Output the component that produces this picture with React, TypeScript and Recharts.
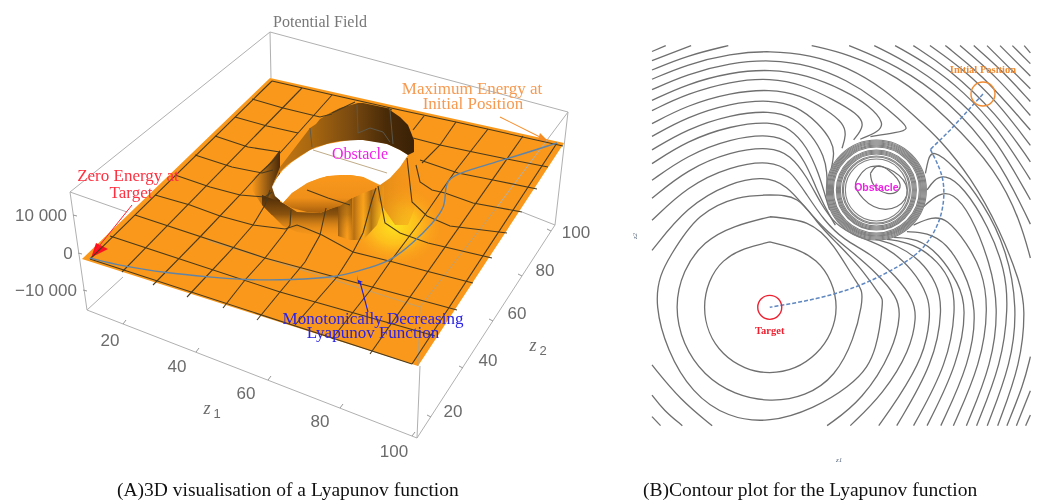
import { ComposedChart, Line, Area, XAxis, YAxis, ReferenceDot } from "recharts";

type Pt = [number, number];
type Band = [number, number, number];

// ---- panel A in the projected plane of the 3D view ----
const surfaceBand: Band[] = [[82, 259, 259], [270, 78, 319], [418, 111, 366], [564, 143, 143]];
const glowBand: Band[] = [[345, 225, 235], [360, 200, 255], [380, 188, 265], [400, 183, 268], [420, 190, 262], [435, 205, 250], [445, 225, 232]];
const backWallBand: Band[] = [[272, 187, 187], [280, 167, 172], [287, 158, 165], [300, 141, 156], [310, 128, 150], [316, 124, 147], [320, 119, 146], [330, 113, 143], [340, 108, 141], [358, 103, 140], [363, 103, 140], [387, 108, 144], [400, 117, 150], [408, 125, 155], [414, 140, 152]];
const holeBand: Band[] = [[272, 187, 187], [275, 180, 196], [283, 170, 203], [292, 162, 193], [310, 150, 182], [327, 144, 176], [350, 140, 175], [363, 140, 177], [380, 142, 185], [390, 145, 178], [400, 150, 167], [408, 155, 155]];
const bulgeBand: Band[] = [[283, 203, 203], [292, 193, 208], [307, 183, 212], [320, 178, 213], [330, 176, 209], [340, 175, 206], [350, 175, 199], [363, 177, 193], [377, 184, 188]];
const shadowBand: Band[] = [[262, 195, 205], [283, 203, 226], [297, 212, 232], [320, 213, 236], [340, 205, 238], [352, 198, 236]];
const flankBand: Band[] = [[252, 178, 190], [262, 172, 205], [272, 160, 215], [280, 150, 212]];
const streakBand: Band[] = [[338, 206, 236], [350, 199, 240], [363, 193, 240], [377, 187, 225], [384, 186, 205]];
const rightWallBand: Band[] = [[378, 186, 200], [395, 165, 225], [408, 155, 225], [416, 142, 205], [426, 165, 200]];

const gridAlong: Pt[][] = [
  [[90, 259], [412, 364]],
  [[110, 236], [280, 292], [435, 336]],
  [[135, 215], [265, 258], [457, 310]],
  [[155, 195], [190, 205], [220, 216], [253, 225], [285, 229], [297, 225], [305, 228], [322, 235], [353, 252], [393, 262], [430, 272], [473, 283]],
  [[175, 175], [210, 187], [240, 195], [265, 197], [272, 192]],
  [[378, 186], [385, 223], [400, 233], [428, 243], [492, 258]],
  [[195, 155], [232, 167], [262, 173], [273, 170]],
  [[407, 158], [412, 202], [427, 216], [450, 226], [507, 233]],
  [[215, 136], [248, 147], [280, 152]],
  [[416, 165], [420, 182], [432, 190], [445, 193], [473, 203], [522, 212]],
  [[235, 117], [267, 126], [298, 133]],
  [[420, 160], [458, 173], [493, 180], [537, 189]],
  [[252, 99], [283, 108], [320, 117], [332, 114]],
  [[413, 138], [440, 145], [473, 152], [507, 159], [548, 167]],
  [[272, 81], [333, 95], [400, 110], [456, 122], [563, 146]],
  [[307, 190], [328, 198], [350, 205]],
];
const gridAcross: Pt[][] = [
  [[90, 259], [272, 81]],
  [[122, 272], [302, 88]],
  [[153, 285], [200, 237], [240, 195], [260, 173], [274, 160], [280, 153], [298, 133], [332, 95]],
  [[187, 297], [233, 248], [253, 225], [265, 205], [270, 190]],
  [[223, 308], [245, 280], [265, 258], [283, 235], [290, 225], [291, 210]],
  [[257, 320], [280, 292], [305, 262], [320, 235], [326, 208]],
  [[295, 325], [337, 277], [353, 252], [363, 233], [372, 200], [376, 188]],
  [[332, 339], [372, 288], [390, 262], [420, 222], [440, 193], [456, 170], [488, 129]],
  [[370, 354], [523, 136]],
  [[412, 364], [557, 143]],
  [[422, 163], [440, 145], [456, 122]],
  [[413, 130], [424, 116]],
  [[387, 108], [392, 110]],
  [[332, 113], [355, 102]],
];
const wallCurves: Pt[][] = [
  [[310, 128], [312, 147]],
  [[357, 105], [358, 133], [370, 128], [383, 132], [390, 142]],
  [[390, 110], [393, 144]],
];
const pathA: Pt[] = [[90, 258], [122, 266], [167, 273], [210, 277], [245, 280], [293, 280], [337, 277], [358, 271], [390, 262], [413, 243], [433, 223], [445, 207], [445, 193], [447, 180], [458, 173], [507, 159], [557, 143]];

const boxLines: Pt[][] = [
  [[270, 32], [568, 112]],
  [[270, 32], [70, 192]],
  [[270, 32], [271, 78]],
  [[70, 192], [87, 310]],
  [[568, 112], [555, 225]],
  [[87, 310], [417, 438]],
  [[417, 438], [555, 225]],
  [[87, 310], [123, 277]],
  [[555, 225], [522, 212]],
  [[70, 192], [127, 212]],
  [[568, 112], [497, 207]],
  [[420, 366], [417, 438]],
];
const boxFaint: Pt[][] = [
  [[207, 240], [420, 307]],
  [[497, 207], [420, 307], [418, 366]],
  [[313, 150], [387, 173]],
];
const boxTicks: Pt[][] = [
  [[123, 324], [126, 320]], [[196, 352], [199, 348]], [[268, 380], [271, 376]], [[340, 408], [343, 404]], [[412, 436], [415, 432]],
  [[431, 417], [427, 415]], [[463, 368], [459, 366]], [[493, 321], [489, 319]], [[522, 276], [518, 274]], [[551, 231], [547, 229]],
  [[73, 215], [77, 216]], [[78, 253], [82, 254]], [[83, 290], [87, 291]],
];

const redArrow: Pt[] = [[132, 205], [96, 250]];
const redHead: Band[] = [[91, 258, 258], [96, 243, 255], [108, 249, 249]];
const orangeArrow: Pt[] = [[500, 117], [542, 138]];
const orangeHead: Band[] = [[538, 140, 140], [540, 133, 141], [549, 142, 142]];
const blueArrow: Pt[] = [[368, 312], [360, 282]];
const blueHead: Band[] = [[357, 275, 275], [358, 280, 283], [363, 282, 282]];

// ---- panel B, values in z1 / z2 ----
const ringContours: Pt[][] = [
  [[10, 37.6], [29.5, 29.5], [38, 10], [29.5, -9.5], [10, -17.5], [-9.5, -9.5], [-17.5, 10], [-9.5, 29.5], [10, 37.6]],
  [[10.1, 48.2], [25.7, 45.4], [37, 35.6], [46.1, 21.5], [48.5, 10], [37, -17.9], [10.1, -29.1], [-17.2, -17.9], [-29.1, 10], [-17.2, 37], [10.1, 48.2]],
  [[10.1, 57.4], [21.5, 55.3], [30, 46.1], [38.4, 37], [48.2, 26.4], [56, 15.9], [57.4, 10], [54.6, -6.6], [42.6, -23.5], [10.1, -37.4], [-22.1, -24.9], [-37.3, 10], [-31.2, 32.8], [-19.3, 48.2], [-3.8, 56], [10.1, 57.4]],
];
const lowerLeftArcs: Pt[][] = [
  [[-39.7, -14.3], [-27.7, -29.1], [-14.3, -39.9]],
  [[-39.7, -27], [-34.7, -33.5], [-26.9, -39.9]],
  [[-39.7, -36.1], [-36.1, -39.9]],
];
const passingContours: Pt[][] = [
  [[-39.7, 34], [-24.9, 52.7], [-6.6, 62.7], [7.5, 65.3], [17.3, 61.6], [25.7, 51.1], [34.2, 41.9], [45.4, 32.8], [55.3, 24.3], [63.7, 14.5], [65.4, 7.5], [62.3, -8], [49.2, -29.1], [34.2, -39.9]],
  [[-39.7, 46.7], [-24.9, 61], [-6.6, 69.6], [10.3, 71.9], [18.7, 67.9], [25.7, 57.4], [32.8, 46.8], [41.2, 38.4], [52.5, 32.8], [63.7, 22.9], [70.7, 13.1], [72, 6], [69.3, -8], [58.1, -26.3], [44, -39.9]],
  [[-39.7, 56], [-24.9, 68.1], [-6.6, 75.7], [10.3, 77.8], [18.7, 74.3], [25.7, 65.1], [31.4, 53.9], [37.7, 44.7], [46.8, 39.8], [59.5, 35.6], [70.7, 25.7], [77.1, 14.5], [77.9, 6], [75, -10.8], [63.7, -29.1], [56, -39.9]],
  [[-39.7, 106.2], [-24.9, 112.5], [-6.6, 117], [10.1, 118.3], [27.1, 116.5], [42.6, 111.5], [58.1, 102.4], [72.2, 89.7], [82, 80.6], [94.7, 65.1], [107.3, 42.6], [115.8, 20.1], [117.9, 10], [116.1, -13.6], [106.2, -39.9]],
];
const enteringContours: Pt[][] = [
  [[-39.7, 63.6], [-24.9, 74.1], [-6.6, 81.2], [10.3, 83.1], [18.7, 79.9], [25, 71.4], [29.3, 60.9], [34.2, 50.4], [37.7, 44.7]],
  [[-39.7, 70.6], [-24.9, 80.2], [-6.6, 86.6], [10.3, 88.5], [18.7, 85.5], [25.7, 77.8], [30.7, 66.5], [33.5, 56.7], [35.3, 51.1]],
  [[-39.7, 76.4], [-24.9, 85.2], [-6.6, 91.3], [10.3, 93], [20.1, 90.2], [27.8, 82.7], [33.1, 73.6], [34.2, 66.5], [34.2, 60.9]],
  [[-39.7, 82.1], [-24.9, 90.3], [-6.6, 96.1], [10.3, 97.6], [21.5, 94.9], [30.7, 87.6], [36.3, 79.9], [37.3, 75], [36, 68.6]],
  [[-39.7, 87.5], [-24.9, 95.2], [-6.6, 100.6], [10.3, 102.1], [22.9, 99.6], [34.2, 93.2], [41.2, 87.6], [42.3, 82.7], [40.5, 77.1]],
  [[-39.7, 93], [-24.9, 100.1], [-6.6, 105.3], [10.3, 106.8], [24.3, 103.8], [37, 97.5], [46.8, 91.8], [50.4, 86.9], [45.4, 80.6]],
  [[-39.7, 97.3], [-24.9, 104.2], [-6.6, 109.1], [10.3, 110.5], [25.7, 108], [41.2, 101.7], [52.5, 94.7], [58.4, 87.6], [56, 84.1], [48.2, 80.9]],
  [[-39.7, 101.8], [-24.9, 108.4], [-6.6, 113.1], [10.3, 114.5], [27.1, 112.2], [42.6, 105.9], [55.3, 97.5], [65.1, 89], [69.1, 85.1], [63.7, 83.7], [52.5, 82]],
];
const leavingContours: Pt[][] = [
  [[54.6, 38.7], [63.7, 36.3], [73.6, 30], [80.6, 20.1], [83.1, 10], [79.3, -13.6], [63.6, -39.9]],
  [[59.5, 38.7], [70.7, 37], [81.3, 29.3], [86.9, 20.1], [88.6, 10], [85.2, -13.6], [70.7, -39.9]],
  [[62.3, 39.5], [72.2, 39.1], [81.3, 32.8], [89.7, 20.1], [93.2, 10], [89.6, -13.6], [76.4, -39.9]],
  [[67.9, 41.9], [76.4, 41.6], [84.8, 37], [91.8, 25.7], [97.7, 10], [94.5, -13.6], [82.2, -39.9]],
  [[70.7, 44.7], [78.5, 48.2], [84.8, 47.5], [93.2, 37], [99.6, 25.7], [102.4, 10], [99.2, -13.6], [87.5, -39.9]],
  [[75, 52.5], [81.3, 58.1], [87.3, 58.4], [94.7, 49.6], [103.1, 28.6], [106.6, 10], [103.9, -13.6], [93, -39.9]],
  [[76.4, 59.5], [79.2, 63.7], [83.7, 66.2], [91.8, 60.9], [102.4, 44], [109.4, 25.7], [110.7, 10], [107.9, -13.6], [97.3, -39.9]],
  [[75.7, 66.5], [76.8, 72.2], [78.5, 76.7], [87.6, 70], [100.3, 53.9], [110.1, 34.2], [114.6, 10], [112, -13.6], [101.8, -39.9]],
];
const outerContours: Pt[][] = [
  [[-39.7, 110.1], [-24.9, 116.2], [-7.5, 120.4]],
  [[27.7, 120.4], [42.6, 117], [63.7, 108], [84.8, 90.4], [105.9, 67.7], [115.8, 46.3], [120, 30.8]],
  [[120, -10.8], [117.2, -22.4], [110.1, -39.9]],
  [[-39.7, 114.1], [-23.2, 120.4]],
  [[43.5, 120.4], [63.7, 112.1], [84.8, 97.9], [105.9, 74.3], [120, 45.1]],
  [[120, -25.2], [114.1, -39.9]],
  [[-39.7, 117.9], [-33.9, 120.4]],
  [[54.1, 120.4], [70.7, 112.2], [91.8, 96.3], [105.9, 80.3], [120, 55.4]],
  [[120, -35.4], [118, -39.9]],
  [[62.9, 120.4], [77.8, 112], [91.8, 101], [105.9, 86.1], [120, 63.9]],
  [[70.6, 120.4], [84.8, 111.3], [105.9, 91.7], [120, 71.4]],
  [[77.6, 120.4], [91.8, 110.3], [105.9, 96.9], [120, 78.3]],
  [[84.1, 120.4], [98.9, 108.9], [120, 84.8]],
  [[90.3, 120.4], [105.9, 107.2], [120, 90.9]],
  [[96.1, 120.4], [108.7, 109.3], [120, 96.8]],
  [[101.7, 120.4], [120, 102.2]],
  [[107.2, 120.4], [120, 107.6]],
  [[112.4, 120.4], [120, 112.8]],
  [[117.4, 120.4], [120, 117.3]],
];
const innerLoops: Pt[][] = [
  [[52.5, 66.5], [56.7, 69.6], [63.7, 64.4], [64.4, 59.5], [59.5, 58.1], [53.9, 61.6], [52.5, 66.5]],
  [[46.8, 63.7], [52.5, 69.3], [62.3, 67.3], [68, 59.5], [63.7, 52.5], [53.9, 52.5], [46.8, 59.5], [46.8, 63.7]],
];
const obstacleRings = [50, 49, 48, 47, 46, 45, 44, 43, 40, 39, 38, 37, 36, 34, 33, 31];
const pathUpper: Pt[] = [[100, 100], [86.2, 84.8], [77.8, 76.6]];
const pathLower: Pt[] = [[77.8, 76.6], [81.3, 69.3], [83.4, 60.9], [82, 48.2], [75, 35.6], [63.7, 27], [48.2, 19.4], [30, 13.8], [10, 10]];
const tickValues = [-40, -30, -20, -10, 0, 10, 20, 30, 40, 50, 60, 70, 80, 90, 100, 110, 120];

const leftNotes = [
  { text: "Potential Field", x: 320, y: 21, color: "#777", size: 16, font: "Liberation Serif" },
  { text: "Zero Energy at", x: 128, y: 175, color: "#ff3040", size: 17, font: "Liberation Serif" },
  { text: "Target", x: 131, y: 192, color: "#ff3040", size: 17, font: "Liberation Serif" },
  { text: "Maximum Energy at", x: 472, y: 88, color: "#f79a50", size: 17, font: "Liberation Serif" },
  { text: "Initial Position", x: 473, y: 103, color: "#f79a50", size: 17, font: "Liberation Serif" },
  { text: "Obstacle", x: 360, y: 153, color: "#f022e8", size: 16, font: "Liberation Serif" },
  { text: "Monotonically Decreasing", x: 373, y: 318, color: "#2a22e8", size: 17, font: "Liberation Serif" },
  { text: "Lyapunov Function", x: 373, y: 332, color: "#2a22e8", size: 17, font: "Liberation Serif" },
  { text: "10 000", x: 41, y: 215, color: "#6b6b6b", size: 17, font: "Liberation Sans" },
  { text: "0", x: 68, y: 253, color: "#6b6b6b", size: 17, font: "Liberation Sans" },
  { text: "−10 000", x: 46, y: 290, color: "#6b6b6b", size: 17, font: "Liberation Sans" },
  { text: "20", x: 110, y: 340, color: "#6b6b6b", size: 17, font: "Liberation Sans" },
  { text: "40", x: 177, y: 366, color: "#6b6b6b", size: 17, font: "Liberation Sans" },
  { text: "60", x: 246, y: 393, color: "#6b6b6b", size: 17, font: "Liberation Sans" },
  { text: "80", x: 320, y: 421, color: "#6b6b6b", size: 17, font: "Liberation Sans" },
  { text: "100", x: 394, y: 451, color: "#6b6b6b", size: 17, font: "Liberation Sans" },
  { text: "20", x: 453, y: 411, color: "#6b6b6b", size: 17, font: "Liberation Sans" },
  { text: "40", x: 488, y: 360, color: "#6b6b6b", size: 17, font: "Liberation Sans" },
  { text: "60", x: 517, y: 313, color: "#6b6b6b", size: 17, font: "Liberation Sans" },
  { text: "80", x: 545, y: 270, color: "#6b6b6b", size: 17, font: "Liberation Sans" },
  { text: "100", x: 576, y: 232, color: "#6b6b6b", size: 17, font: "Liberation Sans" },
];

const toLine = (pts: Pt[]) => pts.map(([x, y]) => ({ x, y }));
const toBand = (rows: Band[]) => rows.map(([x, lo, hi]) => ({ x, band: [lo, hi] }));

const drawBand = (rows: Band[], fill: string, key: string) => (
  <Area key={key} data={toBand(rows)} dataKey="band" stroke="none" fill={fill} fillOpacity={1} type="linear" dot={false} activeDot={false} isAnimationActive={false} />
);
const drawLine = (pts: Pt[], color: string, width: number, key: string, type: any = "linear", dash?: string) => (
  <Line key={key} data={toLine(pts)} dataKey="y" stroke={color} strokeWidth={width} strokeDasharray={dash} type={type} dot={false} activeDot={false} isAnimationActive={false} />
);
const note = (n: any, i: number) => (
  <ReferenceDot key={`note${i}`} x={n.x} y={n.y} r={0} ifOverflow="visible" stroke="none" fill="none"
    label={{ value: n.text, position: "center", fill: n.color, fontSize: n.size, fontFamily: n.font, fontWeight: n.bold ? 700 : 400 }} />
);

const axisColor = "#555";
const tickFont = "Liberation Serif";
const XTick = ({ x, y, payload, side }: any) => {
  const major = payload.value % 50 === 0;
  const len = major ? 6 : 3;
  return (
    <g>
      <line x1={x} y1={y} x2={x} y2={side === "bottom" ? y - len : y + len} stroke={axisColor} strokeWidth={0.8} />
      {side === "bottom" && major && <text x={x} y={y + 10} textAnchor="middle" fontSize={7} fontFamily={tickFont} fill="#5a6a80">{payload.value}</text>}
    </g>
  );
};
const YTick = ({ x, y, payload, side }: any) => {
  const major = payload.value % 50 === 0;
  const len = major ? 6 : 3;
  return (
    <g>
      <line x1={x} y1={y} x2={side === "left" ? x + len : x - len} y2={y} stroke={axisColor} strokeWidth={0.8} />
      {side === "left" && major && <text x={x - 3} y={y + 2} textAnchor="end" fontSize={7} fontFamily={tickFont} fill="#5a6a80">{payload.value}</text>}
    </g>
  );
};

const captionStyle: any = { position: "absolute", top: 479, fontFamily: "Liberation Serif", fontSize: 19.5, color: "#111", whiteSpace: "nowrap" };

export default function App() {
  return (
    <div style={{ position: "absolute", left: 0, top: 0, width: 1045, height: 502, background: "#fff", overflow: "hidden", filter: "blur(0.45px)" }}>
      <div style={{ position: "absolute", left: 0, top: 0 }}>
        <ComposedChart width={630} height={502} margin={{ top: 0, right: 0, bottom: 0, left: 0 }}>
          <defs>
            <radialGradient id="glow">
              <stop offset="0%" stopColor="#fde21f" />
              <stop offset="45%" stopColor="#fdbf1c" />
              <stop offset="100%" stopColor="#f9981b" stopOpacity={0} />
            </radialGradient>
            <linearGradient id="backWall" x1="0" y1="0" x2="1" y2="0">
              <stop offset="0%" stopColor="#c97a14" />
              <stop offset="30%" stopColor="#a5650f" />
              <stop offset="55%" stopColor="#7a4a10" />
              <stop offset="80%" stopColor="#4a2b08" />
              <stop offset="100%" stopColor="#3a2106" />
            </linearGradient>
            <linearGradient id="bulge" x1="0" y1="0" x2="0" y2="1">
              <stop offset="0%" stopColor="#f9981b" />
              <stop offset="60%" stopColor="#f0901a" />
              <stop offset="100%" stopColor="#a85f0c" />
            </linearGradient>
            <linearGradient id="shadow" x1="0" y1="0" x2="0" y2="1">
              <stop offset="0%" stopColor="#4a2a08" />
              <stop offset="45%" stopColor="#8a520e" />
              <stop offset="100%" stopColor="#f9981b" stopOpacity={0} />
            </linearGradient>
            <linearGradient id="flank" x1="0" y1="0" x2="1" y2="0">
              <stop offset="0%" stopColor="#7a4a10" stopOpacity={0} />
              <stop offset="70%" stopColor="#7a4a10" />
              <stop offset="100%" stopColor="#4a2a08" />
            </linearGradient>
            <linearGradient id="streaks" x1="0" y1="0" x2="1" y2="0">
              <stop offset="0%" stopColor="#8a520e" stopOpacity={0.8} />
              <stop offset="20%" stopColor="#f9a01b" stopOpacity={0.5} />
              <stop offset="35%" stopColor="#9a5c0e" stopOpacity={0.7} />
              <stop offset="55%" stopColor="#f9a81b" stopOpacity={0.5} />
              <stop offset="72%" stopColor="#8a520e" stopOpacity={0.7} />
              <stop offset="100%" stopColor="#f9a81b" stopOpacity={0.3} />
            </linearGradient>
            <linearGradient id="rightWall" x1="0" y1="0" x2="1" y2="0">
              <stop offset="0%" stopColor="#e08a16" />
              <stop offset="100%" stopColor="#f9981b" stopOpacity={0} />
            </linearGradient>
          </defs>
          <XAxis type="number" dataKey="x" domain={[0, 630]} hide />
          <YAxis type="number" domain={[0, 502]} reversed hide />
          {boxLines.map((l, i) => drawLine(l, "#b0b0b0", 1, `box${i}`))}
          {boxTicks.map((l, i) => drawLine(l, "#999", 1, `bt${i}`))}
          {drawBand(surfaceBand, "#f9981b", "surface")}
          {drawBand(glowBand, "url(#glow)", "glow")}
          {drawBand(flankBand, "url(#flank)", "flank")}
          {drawBand(rightWallBand, "url(#rightWall)", "rightWall")}
          {drawBand(shadowBand, "url(#shadow)", "shadow")}
          {drawBand(streakBand, "url(#streaks)", "streak")}
          {drawBand(holeBand, "#ffffff", "hole")}
          {drawBand(backWallBand, "url(#backWall)", "backWall")}
          {drawBand(bulgeBand, "url(#bulge)", "bulge")}
          {boxFaint.map((l, i) => drawLine(l, "#b9a27a", 0.9, `faint${i}`))}
          {gridAlong.map((l, i) => drawLine(l, "#4a3a1c", 1.1, `ga${i}`))}
          {gridAcross.map((l, i) => drawLine(l, "#4a3a1c", 1.1, `gb${i}`))}
          {wallCurves.map((l, i) => drawLine(l, "#5a5a50", 0.9, `wc${i}`))}
          {drawLine(pathA, "#5f84a8", 1.4, "pathA", "basis")}
          {drawLine(redArrow, "#ff2030", 1, "redArrow")}
          {drawBand(redHead, "#ff1020", "redHead")}
          {drawLine(orangeArrow, "#f59030", 1.1, "orangeArrow")}
          {drawBand(orangeHead, "#f58a20", "orangeHead")}
          {drawLine(blueArrow, "#2020d8", 1.1, "blueArrow")}
          {drawBand(blueHead, "#1818d8", "blueHead")}
          {leftNotes.map(note)}
          <ReferenceDot x={207} y={408} r={0} ifOverflow="visible" stroke="none" fill="none" label={{ value: "z", position: "center", fill: "#6b6b6b", fontSize: 18, fontStyle: "italic", fontFamily: "Liberation Serif" }} />
          <ReferenceDot x={217} y={413} r={0} ifOverflow="visible" stroke="none" fill="none" label={{ value: "1", position: "center", fill: "#6b6b6b", fontSize: 13, fontFamily: "Liberation Sans" }} />
          <ReferenceDot x={533} y={345} r={0} ifOverflow="visible" stroke="none" fill="none" label={{ value: "z", position: "center", fill: "#6b6b6b", fontSize: 18, fontStyle: "italic", fontFamily: "Liberation Serif" }} />
          <ReferenceDot x={543} y={350} r={0} ifOverflow="visible" stroke="none" fill="none" label={{ value: "2", position: "center", fill: "#6b6b6b", fontSize: 13, fontFamily: "Liberation Sans" }} />
        </ComposedChart>
      </div>
      <div style={{ position: "absolute", left: 630, top: 0 }}>
        <ComposedChart width={415} height={502} margin={{ top: 38, right: 8, bottom: 69, left: 13 }}>
          <XAxis type="number" dataKey="x" domain={[-43.5, 122.8]} ticks={tickValues} interval={0} height={0} tickSize={0} tickMargin={0} tickLine={false} axisLine={{ stroke: axisColor, strokeWidth: 1.4 }} tick={<XTick side="bottom" />} />
          <XAxis xAxisId="top" orientation="top" type="number" dataKey="x" domain={[-43.5, 122.8]} ticks={tickValues} interval={0} height={0} tickSize={0} tickMargin={0} tickLine={false} axisLine={{ stroke: axisColor, strokeWidth: 1.4 }} tick={<XTick side="top" />} />
          <YAxis type="number" domain={[-43, 123.6]} ticks={tickValues} interval={0} width={0} tickSize={0} tickMargin={0} tickLine={false} axisLine={{ stroke: axisColor, strokeWidth: 1.4 }} tick={<YTick side="left" />} />
          <YAxis yAxisId="right" orientation="right" type="number" domain={[-43, 123.6]} ticks={tickValues} interval={0} width={0} tickSize={0} tickMargin={0} tickLine={false} axisLine={{ stroke: axisColor, strokeWidth: 1.4 }} tick={<YTick side="right" />} />
          {obstacleRings.map((r) => (
            <ReferenceDot key={`ring${r}`} x={55} y={59.5} r={r} fill="none" stroke="#808080" strokeWidth={1.1} ifOverflow="visible" />
          ))}
          {ringContours.map((l, i) => drawLine(l, "#6f6f6f", 1.3, `rc${i}`, "natural"))}
          {lowerLeftArcs.map((l, i) => drawLine(l, "#6f6f6f", 1.3, `ll${i}`, "basis"))}
          {passingContours.map((l, i) => drawLine(l, "#6f6f6f", 1.3, `pc${i}`, "basis"))}
          {enteringContours.map((l, i) => drawLine(l, "#6f6f6f", 1.3, `ec${i}`, "basis"))}
          {leavingContours.map((l, i) => drawLine(l, "#6f6f6f", 1.3, `lc${i}`, "basis"))}
          {outerContours.map((l, i) => drawLine(l, "#6f6f6f", 1.3, `oc${i}`, "basis"))}
          {innerLoops.map((l, i) => drawLine(l, "#6f6f6f", 1.2, `il${i}`, "natural"))}
          {drawLine(pathUpper, "#5f87c0", 1.5, "pathUpper", "linear", "4 2")}
          {drawLine(pathLower, "#5f87c0", 1.5, "pathLower", "natural", "4 2")}
          <ReferenceDot x={10} y={10} r={12} fill="none" stroke="#ee2030" strokeWidth={1.4} ifOverflow="visible" />
          <ReferenceDot x={100} y={100} r={12} fill="none" stroke="#f08a30" strokeWidth={1.4} ifOverflow="visible" />
          {[
            { text: "Initial Position", x: 100, y: 110.2, color: "#f08a30", size: 10.5, font: "Liberation Serif", bold: true },
            { text: "Target", x: 10, y: 0.5, color: "#ee2030", size: 10.5, font: "Liberation Serif", bold: true },
            { text: "Obstacle", x: 55, y: 60.5, color: "#f022e8", size: 10.5, font: "Liberation Sans", bold: true },
          ].map(note)}
        </ComposedChart>
      </div>
      <div style={{ ...captionStyle, left: 117 }}>(A)3D visualisation of a Lyapunov function</div>
      <div style={{ ...captionStyle, left: 643 }}>(B)Contour plot for the Lyapunov function</div>
      <div style={{ position: "absolute", left: 836, top: 456, fontFamily: tickFont, fontSize: 7, fontStyle: "italic", color: "#5a6a80" }}>z1</div>
      <div style={{ position: "absolute", left: 632, top: 232, fontFamily: tickFont, fontSize: 7, fontStyle: "italic", color: "#5a6a80", transform: "rotate(-90deg)" }}>z2</div>
    </div>
  );
}
